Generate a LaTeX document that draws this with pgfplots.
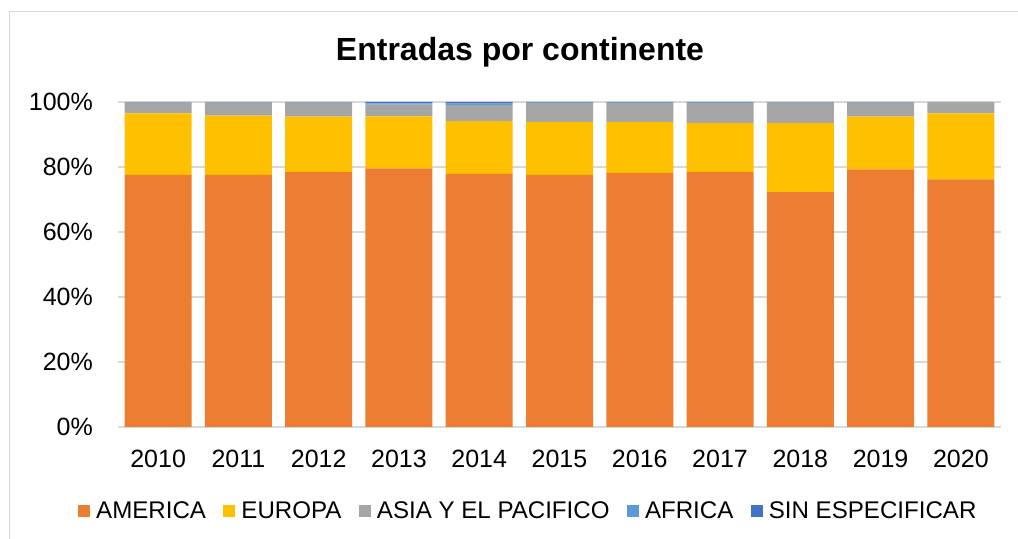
\documentclass[border=0pt]{standalone}
\usepackage{pgfplots}
\pgfplotsset{compat=1.18}
\usepackage{pgfplotstable}
\usepackage{fontspec}
\setmainfont{Liberation Sans}
\definecolor{cAme}{HTML}{ED7D31}
\definecolor{cEur}{HTML}{FFC000}
\definecolor{cAsia}{HTML}{A5A5A5}
\definecolor{cAfr}{HTML}{5B9BD5}
\definecolor{cSin}{HTML}{4472C4}
\definecolor{cGrid}{HTML}{D9D9D9}
\pgfplotstableread{
x ame eur asia afr sin
0 77.6 18.9 3.3 0.2 0.0
1 77.6 18.2 4.0 0.2 0.0
2 78.4 17.1 4.3 0.2 0.0
3 79.6 16.0 3.6 0.4 0.4
4 77.9 16.2 5.0 0.4 0.5
5 77.6 16.3 5.8 0.3 0.0
6 78.2 15.7 5.8 0.3 0.0
7 78.4 15.1 6.2 0.3 0.0
8 72.3 21.2 6.3 0.2 0.0
9 79.3 16.2 4.3 0.2 0.0
10 76.2 20.3 3.4 0.1 0.0
}\datatable
\begin{document}
\begin{tikzpicture}
\useasboundingbox (0,0) rectangle (1018bp,539bp);
\draw[cGrid, line width=1.3bp] (9.5bp,0) -- (9.5bp,527.5bp) -- (1018bp,527.5bp);
\node[font=\fontsize{32bp}{38bp}\selectfont\bfseries] at (520bp,487bp) {Entradas por continente};
\begin{axis}[
  at={(118bp,112bp)}, anchor=south west,
  scale only axis, width=883bp, height=325bp,
  ybar stacked, bar width=67bp,
  xmin=-0.5, xmax=10.5, ymin=0, ymax=100,
  xtick={0,...,10},
  xticklabels={2010,2011,2012,2013,2014,2015,2016,2017,2018,2019,2020},
  ytick={0,20,40,60,80,100},
  yticklabels={0\%,20\%,40\%,60\%,80\%,100\%},
  axis line style={draw=none},
  major tick length=0pt,
  ymajorgrids, major grid style={cGrid, line width=1.3bp},
  tick label style={font=\fontsize{25bp}{30bp}\selectfont},
  yticklabel style={anchor=east, inner sep=0pt, xshift=-25bp},
  xticklabel style={anchor=north, inner sep=0pt, yshift=-23bp},
  legend columns=5,
  legend style={at={(-0.0453,-0.2585)}, anchor=west, draw=none, inner sep=0pt,
    font=\fontsize{24.1bp}{28bp}\selectfont,
    /tikz/every odd column/.append style={column sep=4bp},
    /tikz/every even column/.append style={column sep=15.5bp}},
  legend image code/.code={\fill[#1] (0bp,-6bp) rectangle (12bp,6bp);},
  legend cell align=left,
]
\addplot[fill=cAme, draw=none] table[x=x, y=ame] {\datatable};
\addplot[fill=cEur, draw=none] table[x=x, y=eur] {\datatable};
\addplot[fill=cAsia, draw=none] table[x=x, y=asia] {\datatable};
\addplot[fill=cAfr, draw=none] table[x=x, y=afr] {\datatable};
\addplot[fill=cSin, draw=none] table[x=x, y=sin] {\datatable};
\legend{AMERICA, EUROPA, ASIA Y EL PACIFICO, AFRICA, SIN ESPECIFICAR}
\end{axis}
\end{tikzpicture}
\end{document}
